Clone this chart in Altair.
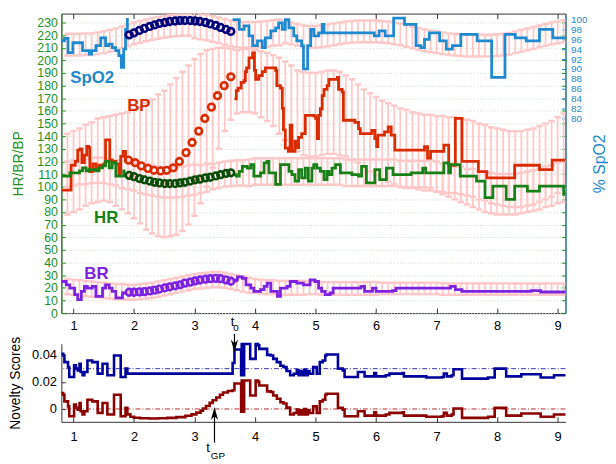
import altair as alt
import pandas as pd

FONT = "Liberation Sans"
W, H_TOP, H_BOT = 510, 303, 79

# ---------------- axes ranges / ticks ----------------
X_DOMAIN = [0.8, 9.13]
LEFT_DOMAIN = [0, 237]
SPO2_DOMAIN = [40.6, 101.2]
NOV_DOMAIN = [-0.0095, 0.0482]
X_TICKS = [1, 2, 3, 4, 5, 6, 7, 8, 9]
LEFT_TICKS = [0, 10, 20, 30, 40, 50, 60, 70, 80, 90, 100, 110, 120, 130, 140, 150,
              160, 170, 180, 190, 200, 210, 220, 230]
SPO2_TICKS = [80, 82, 84, 86, 88, 90, 92, 94, 96, 98, 100]
NOV_TICKS = [0, 0.02, 0.04]

# ---------------- observed vital signs ----------------
SPO2_A_X = [0.80, 0.85, 0.91, 0.95, 0.99, 1.10, 1.15, 1.26, 1.30, 1.37, 1.45, 1.50, 1.53, 1.58,
            1.64, 1.70, 1.75, 1.79, 1.83, 1.86, 1.89]
SPO2_A_Y = [95.7, 96.2, 93.3, 93.3, 95.3, 95.3, 93.7, 93.0, 93.7, 94.7, 96.3, 96.3, 94.7, 95.0,
            94.3, 93.7, 92.7, 90.3, 94.0, 98.0, 100.3]
SPO2_B_X = [3.63, 3.74, 3.82, 3.90, 3.96, 4.04, 4.12, 4.17, 4.26, 4.34, 4.39, 4.45, 4.50, 4.56,
            4.64, 4.69, 4.77, 4.80, 4.87, 4.92, 4.97, 5.05, 5.11, 5.14, 5.97, 6.05, 6.15, 6.29,
            6.47, 6.66, 6.74, 6.80, 6.88, 7.05, 7.16, 7.26, 7.40, 7.67, 7.91, 8.13, 8.30, 8.48,
            8.70, 8.92, 9.13]
SPO2_B_Y = [100.0, 98.0, 98.7, 96.7, 94.7, 95.7, 94.3, 96.3, 97.7, 98.3, 99.3, 98.0, 100.0, 98.3,
            96.7, 95.7, 94.7, 90.0, 94.7, 98.0, 96.7, 97.3, 99.0, 97.3, 96.7, 97.7, 96.7, 100.3,
            99.0, 94.7, 94.3, 96.0, 97.3, 95.7, 94.0, 94.7, 97.0, 95.7, 88.3, 97.0, 96.3, 95.7,
            98.0, 96.3, 96.3]

BP_A_X = [0.80, 0.93, 0.96, 1.03, 1.07, 1.11, 1.14, 1.18, 1.22, 1.25, 1.27, 1.32, 1.37, 1.42,
          1.50, 1.53, 1.56, 1.60, 1.64, 1.70, 1.75, 1.78, 1.82, 1.86]
BP_A_Y = [97.4, 97.4, 117, 120, 129, 130, 119, 125, 132, 131, 112, 118, 113, 117,
          118, 137, 137, 121, 120, 118, 110, 124, 128, 120]
BP_B_X = [3.66, 3.69, 3.72, 3.77, 3.82, 3.84, 3.86, 3.90, 3.96, 3.99, 4.01, 4.06, 4.12, 4.17,
          4.34, 4.36, 4.42, 4.45, 4.47, 4.50, 4.55, 4.58, 4.61, 4.66, 4.69, 4.72, 4.77, 4.83,
          4.97, 5.00, 5.03, 5.05, 5.08, 5.11, 5.14, 5.19, 5.22, 5.36, 5.38, 5.44, 5.46, 5.65,
          5.71, 5.74, 5.93, 5.98, 6.01, 6.03, 6.14, 6.20, 6.25, 6.31, 6.77, 6.80, 6.85, 6.90,
          7.12, 7.20, 7.31, 7.42, 7.69, 7.83, 8.29, 8.70, 8.91, 9.13]
BP_B_Y = [169.5, 176, 178, 182.6, 184, 191, 194, 202, 206, 192, 185, 188, 191, 194,
          192, 180, 178, 162, 145, 130.5, 128, 148.7, 128, 136, 131, 139, 142, 156.5,
          156, 154, 138, 156.5, 161.7, 172, 177, 180, 185, 186.5, 177, 175, 152.6, 151,
          146, 142, 144.5, 138, 131.8, 140.8, 143.4, 147.4, 140.8, 129, 129, 131.8, 122.6, 128,
          133, 117, 154, 120, 112, 107, 117, 113.5, 121, 121]

HR_A_X = [0.80, 0.94, 1.10, 1.15, 1.21, 1.26, 1.37, 1.42, 1.48, 1.53, 1.59, 1.64, 1.70, 1.78,
          1.83, 1.86]
HR_A_Y = [108.3, 111, 112.5, 115, 112.5, 113.5, 112.5, 115, 116.5, 120, 115, 119, 108.3, 108.3,
          112.5, 112.5]
HR_B_X = [3.63, 3.69, 3.74, 3.79, 3.87, 3.93, 3.98, 4.09, 4.15, 4.20, 4.23, 4.34, 4.42, 4.50,
          4.56, 4.61, 4.66, 4.72, 4.77, 4.83, 4.88, 4.94, 4.97, 5.02, 5.08, 5.14, 5.19, 5.22,
          5.27, 5.33, 5.41, 5.60, 5.71, 5.76, 5.84, 5.98, 6.06, 6.17, 6.28, 6.58, 6.77, 6.82,
          7.12, 7.20, 7.23, 7.39, 7.66, 7.80, 7.93, 8.15, 8.29, 8.50, 8.70, 9.10, 9.13]
HR_B_Y = [109.6, 108.3, 112.2, 116.1, 114.8, 117.4, 108.3, 110.9, 118.8, 120.0, 110.9, 101.8,
          117.4, 117.4, 112.2, 109.6, 104.4, 113.5, 107.0, 114.8, 104.4, 114.8, 117.4, 114.8,
          112.2, 105.7, 112.2, 109.6, 114.8, 117.4, 110.9, 109.6, 108.3, 116.1, 103.1, 113.5,
          105.7, 114.8, 109.6, 110.9, 114.8, 110.9, 118.8, 110.9, 117.4, 108.3, 104.4, 91.4,
          100.5, 90.0, 100.5, 96.6, 100.5, 94.0, 94.0]

BR_A_X = [0.80, 0.88, 0.94, 1.02, 1.07, 1.13, 1.18, 1.23, 1.31, 1.37, 1.48, 1.53, 1.59, 1.64,
          1.70, 1.81, 1.86]
BR_A_Y = [25, 22.4, 19.8, 14.6, 10.7, 17.2, 21.1, 19.8, 21.1, 13.3, 19.8, 22.4, 19.8, 17.2,
          12.0, 15.9, 17.2]
BR_B_X = [3.63, 3.69, 3.71, 3.79, 3.85, 3.93, 3.98, 4.09, 4.15, 4.20, 4.26, 4.37, 4.42, 4.53,
          4.58, 4.69, 4.80, 4.91, 4.99, 5.05, 5.10, 5.16, 5.24, 5.29, 5.75, 5.81, 5.94, 6.00,
          6.27, 6.33, 7.23, 7.31, 7.42, 8.56, 8.72, 9.13]
BR_B_Y = [25.5, 26.3, 28.7, 27.4, 22.4, 19.8, 17.2, 18.5, 21.1, 23.7, 17.2, 13.3, 19.8, 21.1,
          25.0, 23.7, 22.4, 26.3, 25.0, 19.8, 17.2, 14.6, 15.9, 19.8, 21.1, 17.2, 19.8, 17.2,
          17.7, 19.8, 21.1, 18.5, 17.2, 17.7, 16.7, 16.7]

# ---------------- GP predictions in the gap (circles) ----------------
CIRC_X = [1.92, 2.00, 2.09, 2.17, 2.26, 2.34, 2.42, 2.51, 2.59, 2.68, 2.76, 2.84, 2.93, 3.01,
          3.09, 3.18, 3.26, 3.35, 3.43, 3.52, 3.60]
SPO2_CIRC = [96.9, 97.3, 97.8, 98.2, 98.6, 98.9, 99.2, 99.4, 99.6, 99.7, 99.8, 99.8, 99.8, 99.7,
             99.6, 99.4, 99.1, 98.8, 98.4, 98.0, 97.6]
HR_CIRC = [109, 108, 106.5, 105.5, 104.5, 103.5, 103, 102.5, 102.5, 102.5, 103, 103.5, 104.5,
           105.5, 106, 107, 107.5, 108.5, 109.5, 110.5, 111]
BR_CIRC = [16.5, 16.5, 16.8, 17, 17.5, 18.2, 19, 20, 20.8, 21.6, 22.4, 23.7, 24.5, 25.5, 26.2,
           26.8, 27.2, 27.5, 27.2, 26.3, 25.2]
BP_CIRC_X = [1.91, 2.02, 2.12, 2.23, 2.33, 2.44, 2.54, 2.65, 2.75, 2.86, 2.96, 3.07, 3.17, 3.28,
             3.38, 3.49, 3.60]
BP_CIRC = [121, 119, 116.5, 114.5, 113, 112.5, 113, 115, 120, 127, 135, 144, 154, 163, 172, 180,
           187]

# ---------------- GP error bars (centre, half width) ----------------
BAND_X = [0.9, 1.0, 1.1, 1.2, 1.3, 1.4, 1.5, 1.6, 1.7, 1.8,
          1.9, 2.0, 2.1, 2.2, 2.3, 2.4, 2.5, 2.6, 2.7, 2.8,
          2.9, 3.0, 3.1, 3.2, 3.3, 3.4, 3.5, 3.6, 3.7, 3.8,
          3.9, 4.0, 4.1, 4.2, 4.3, 4.4, 4.5, 4.6, 4.7, 4.8,
          4.9, 5.0, 5.1, 5.2, 5.3, 5.4, 5.5, 5.6, 5.7, 5.8,
          5.9, 6.0, 6.1, 6.2, 6.3, 6.4, 6.5, 6.6, 6.7, 6.8,
          6.9, 7.0, 7.1, 7.2, 7.3, 7.4, 7.5, 7.6, 7.7, 7.8,
          7.9, 8.0, 8.1, 8.2, 8.3, 8.4, 8.5, 8.6, 8.7, 8.8,
          8.9, 9.0, 9.1]
SPO2_BAND_C = [94.9, 94.9, 94.9, 95.0, 95.0, 95.2, 95.4, 95.7, 96.0, 96.4,
               96.8, 97.2, 97.5, 97.8, 98.1, 98.3, 98.5, 98.7, 98.8, 98.9,
               98.9, 98.8, 98.6, 98.4, 98.1, 97.8, 97.5, 97.2, 97.0, 96.9,
               96.9, 96.9, 97.0, 97.1, 97.3, 97.4, 97.4, 97.2, 96.9, 96.6,
               96.5, 96.5, 96.6, 96.8, 97.0, 97.2, 97.4, 97.5, 97.6, 97.6,
               97.6, 97.6, 97.5, 97.4, 97.2, 97.0, 96.7, 96.4, 96.1, 95.8,
               95.6, 95.4, 95.2, 95.0, 94.9, 94.8, 94.7, 94.7, 94.7, 94.7,
               94.7, 94.8, 94.9, 95.1, 95.4, 95.7, 96.0, 96.3, 96.6, 96.9,
               97.2, 97.4, 97.6]
SPO2_BAND_HW = [2.2, 2.2, 2.2, 2.2, 2.2, 2.2, 2.2, 2.2, 2.2, 2.2,
                2.2, 2.2, 2.2, 2.2, 2.2, 2.2, 2.2, 2.2, 2.2, 2.2,
                2.2, 2.6, 2.6, 2.6, 2.6, 2.6, 2.6, 2.6, 2.6, 2.6,
                2.6, 2.6, 2.6, 2.6, 2.6, 2.6, 2.2, 2.2, 2.2, 2.2,
                2.2, 2.2, 2.2, 2.2, 2.2, 2.2, 2.2, 2.2, 2.2, 2.2,
                2.2, 2.2, 2.2, 2.2, 2.2, 2.2, 2.2, 2.2, 2.2, 2.2,
                2.2, 2.2, 2.2, 2.2, 2.2, 2.2, 2.2, 2.2, 2.2, 2.2,
                2.2, 2.2, 2.2, 2.2, 2.2, 2.2, 2.2, 2.2, 2.2, 2.2,
                2.2, 2.2, 2.2]
BP_BAND_C = [110, 112, 114, 117, 119, 121, 122, 122, 121, 120,
             119, 118, 117, 116, 116, 117, 118, 121, 124, 128,
             133, 139, 146, 154, 162, 170, 177, 181, 183, 184,
             184, 183, 181, 179, 176, 172, 168, 164, 160, 158,
             157, 157, 158, 159, 159, 158, 156, 153, 150, 146,
             143, 140, 137, 135, 133, 131, 130, 129, 128, 127,
             127, 126, 126, 125, 125, 124, 123, 122, 120, 119,
             117, 116, 115, 114, 114, 114, 115, 116, 118, 120,
             122, 125, 128]
BP_BAND_HW = [32, 32, 32, 32, 32, 33, 33, 34, 36, 38,
              40, 43, 46, 50, 53, 56, 58, 60, 62, 63,
              63, 62, 59, 54, 47, 40, 33, 28, 25, 25,
              25, 25, 26, 27, 28, 30, 31, 32, 32, 33,
              33, 33, 33, 33, 33, 33, 32, 32, 31, 31,
              31, 31, 31, 31, 31, 31, 31, 30, 30, 30,
              30, 30, 30, 30, 30, 30, 30, 30, 30, 30,
              30, 30, 30, 30, 30, 30, 30, 30, 30, 30,
              30, 30, 30]
HR_BAND_C = [110, 111, 112, 112, 113, 113, 113, 112, 111, 110,
             109, 108, 107, 106, 105, 104, 103.5, 103.5, 103.5, 104,
             105, 105.5, 106, 107, 108, 109, 110, 110.5, 111, 111,
             111, 112, 112, 112, 112, 112, 112, 112, 112, 112,
             112, 112, 112, 112, 112, 112, 111, 111, 111, 111,
             111, 111, 111, 111, 111, 110, 110, 110, 110, 110,
             110, 108, 106, 105, 103, 102, 100, 99, 97, 96,
             95, 94, 94, 94, 94, 95, 96, 97, 98, 100,
             101, 103, 104]
HR_BAND_HW = [10, 10, 10, 10, 10, 10, 10, 10, 10, 11,
              11, 11, 12, 12, 12, 12, 12, 12, 12, 12,
              12, 12, 11, 11, 10, 10, 10, 10, 10, 10,
              10.5, 10.5, 10.5, 10.5, 10.5, 10.5, 10.5, 10.5, 10.5, 10.5,
              10.5, 10.5, 10.5, 10.5, 10.5, 10.5, 10.5, 10.5, 10.5, 10.5,
              10.5, 10.5, 10.5, 10.5, 10.5, 10.5, 10.5, 10.5, 10.5, 10.5,
              11, 12, 12, 13, 13, 14, 14, 15, 15, 16,
              16, 16, 16, 16, 16, 16, 16, 16, 16, 16,
              16, 16, 16]
BR_BAND_C = [21, 20.5, 20, 19.5, 19, 18.5, 18, 17.5, 17, 17,
             16.5, 16.5, 17, 17.5, 18, 19, 20, 21, 22, 23,
             24, 25, 25.5, 26, 26.5, 26.5, 26, 25, 24, 23,
             22, 21.5, 21, 20.5, 20.5, 20, 20, 20, 20, 20,
             20, 20, 19.5, 19.5, 19.5, 19.5, 19.5, 19.5, 19.5, 19.5,
             19.5, 19.5, 19.5, 19.5, 19.5, 19.5, 19.5, 19.5, 19.5, 19.5,
             19.5, 19.5, 19, 19, 19, 19, 19, 19, 19, 19,
             19, 19, 19, 19, 19, 19, 19, 19, 19, 19,
             19, 19, 19]
BR_BAND_HW = [6, 6, 6, 6, 6, 6, 6, 6, 6, 6,
              6, 6, 6, 6, 6, 6, 6, 6, 6, 6,
              6, 6, 6, 6, 6, 6, 6, 6, 6, 6,
              6, 5.5, 5.5, 5.5, 5.5, 5.5, 5.5, 5.5, 5.5, 5.5,
              5, 5, 5, 5, 5, 5, 5, 5, 5, 5,
              5, 5, 4.5, 4.5, 4.5, 4.5, 4.5, 4.5, 4.5, 4.5,
              4.5, 4.5, 4.5, 4.5, 4.5, 4.5, 4.5, 4.5, 4.5, 4.5,
              4.5, 4.5, 4.5, 4.5, 4.5, 4.5, 4.5, 4.5, 4.5, 4.5,
              4.5, 4.5, 4.5]

# ---------------- in-plot labels ----------------
LABEL_TEXT = ["SpO2", "BP", "HR", "BR"]
LABEL_X = [1.31, 2.08, 1.54, 1.38]
LABEL_Y = [186.2, 163.5, 75.1, 30.9]

# ---------------- novelty scores ----------------
NOV_BLUE_X = [0.80, 0.83, 0.85, 0.91, 0.93, 0.99, 1.01, 1.04, 1.07, 1.10,
              1.12, 1.15, 1.18, 1.23, 1.31, 1.37, 1.40, 1.45, 1.48, 1.53,
              1.56, 1.64, 1.67, 1.75, 1.78, 1.83, 1.86, 1.89, 3.60, 3.63,
              3.66, 3.76, 3.77, 3.78, 3.79, 3.80, 3.81, 3.82, 3.90, 3.92,
              3.99, 4.01, 4.05, 4.07, 4.17, 4.20, 4.26, 4.30, 4.36, 4.42,
              4.47, 4.52, 4.58, 4.64, 4.69, 4.72, 4.75, 4.78, 4.81, 4.84,
              4.87, 4.90, 4.96, 5.02, 5.07, 5.12, 5.16, 5.18, 5.35, 5.37,
              5.45, 5.48, 5.67, 5.70, 5.78, 5.81, 5.94, 5.97, 6.00, 6.16,
              6.22, 6.44, 6.46, 6.83, 7.09, 7.12, 7.17, 7.25, 7.28, 7.39,
              7.42, 7.80, 7.85, 7.93, 7.96, 8.12, 8.15, 8.40, 8.70, 8.72,
              8.89, 8.94, 9.13]
NOV_BLUE_Y = [0.0407, 0.0395, 0.0346, 0.0309, 0.0236, 0.0236, 0.0322, 0.0298, 0.0285, 0.0334,
              0.0273, 0.0249, 0.0273, 0.0358, 0.0346, 0.0346, 0.0261, 0.0261, 0.0334, 0.0334,
              0.0249, 0.0249, 0.0395, 0.0395, 0.0236, 0.0236, 0.0298, 0.0261, 0.0261, 0.0340,
              0.0440, 0.0440, 0.0250, 0.0480, 0.0250, 0.0480, 0.0250, 0.0480, 0.0480, 0.0370,
              0.0370, 0.0480, 0.0470, 0.0444, 0.0444, 0.0400, 0.0395, 0.0370, 0.0346, 0.0320,
              0.0310, 0.0280, 0.0249, 0.0260, 0.0285, 0.0249, 0.0280, 0.0249, 0.0290, 0.0249,
              0.0280, 0.0260, 0.0309, 0.0261, 0.0346, 0.0358, 0.0395, 0.0402, 0.0402, 0.0298,
              0.0285, 0.0236, 0.0236, 0.0273, 0.0273, 0.0241, 0.0241, 0.0266, 0.0241, 0.0249,
              0.0261, 0.0266, 0.0241, 0.0232, 0.0236, 0.0261, 0.0241, 0.0249, 0.0293, 0.0293,
              0.0224, 0.0224, 0.0232, 0.0232, 0.0298, 0.0298, 0.0241, 0.0256, 0.0256, 0.0232,
              0.0232, 0.0249, 0.0249]
NOV_RED_X = [0.80, 0.83, 0.85, 0.91, 0.93, 0.99, 1.01, 1.04, 1.07, 1.10,
             1.12, 1.15, 1.18, 1.23, 1.31, 1.37, 1.40, 1.45, 1.48, 1.53,
             1.56, 1.64, 1.67, 1.75, 1.78, 1.83, 1.86,
             1.89, 1.94, 2.00, 2.10, 2.25, 2.40, 2.55, 2.70, 2.85, 2.95,
             3.03, 3.10, 3.14, 3.19, 3.25, 3.30, 3.36, 3.42, 3.47, 3.55, 3.63,
             3.66, 3.76, 3.77, 3.78, 3.79, 3.80, 3.81, 3.82, 3.90, 3.92,
             3.99, 4.01, 4.05, 4.07, 4.17, 4.20, 4.26, 4.30, 4.36, 4.42,
             4.47, 4.52, 4.58, 4.64, 4.69, 4.72, 4.75, 4.78, 4.81, 4.84,
             4.87, 4.90, 4.96, 5.02, 5.07, 5.12, 5.16, 5.18, 5.35, 5.37,
             5.45, 5.48, 5.67, 5.70, 5.78, 5.81, 5.94, 5.97, 6.00, 6.16,
             6.22, 6.44, 6.46, 6.83, 7.09, 7.12, 7.17, 7.25, 7.28, 7.39,
             7.42, 7.80, 7.85, 7.93, 7.96, 8.12, 8.15, 8.40, 8.70, 8.72,
             8.89, 8.94, 9.13]
NOV_RED_Y = [0.0117, 0.0105, 0.0056, 0.0019, -0.0054, -0.0054, 0.0032, 0.0008, -0.0005, 0.0044,
             -0.0017, -0.0041, -0.0017, 0.0068, 0.0056, 0.0056, -0.0029, -0.0029, 0.0044, 0.0044,
             -0.0041, -0.0041, 0.0105, 0.0105, -0.0054, -0.0054, 0.0008,
             -0.0040, -0.0058, -0.0065, -0.0069, -0.0070, -0.0069, -0.0066, -0.0060, -0.0050,
             -0.0040, -0.0027, -0.0012, 0.0003, 0.0022, 0.0045, 0.0065, 0.0085, 0.0105, 0.0122,
             0.0133, 0.0139,
             0.0188, 0.0188, -0.0020, 0.0210, -0.0020, 0.0210, -0.0020, 0.0210, 0.0210, 0.0100,
             0.0100, 0.0210, 0.0200, 0.0174, 0.0174, 0.0130, 0.0125, 0.0100, 0.0076, 0.0050,
             0.0040, 0.0010, -0.0041, -0.0030, -0.0005, -0.0041, -0.0010, -0.0041, 0.0000, -0.0041,
             -0.0010, -0.0030, 0.0019, -0.0029, 0.0056, 0.0068, 0.0105, 0.0112, 0.0112, 0.0008,
             -0.0005, -0.0054, -0.0054, -0.0017, -0.0017, -0.0049, -0.0049, -0.0024, -0.0049, -0.0041,
             -0.0029, -0.0024, -0.0049, -0.0058, -0.0054, -0.0029, -0.0049, -0.0041, 0.0003, 0.0003,
             -0.0066, -0.0066, -0.0058, -0.0058, 0.0008, 0.0008, -0.0049, -0.0034, -0.0034, -0.0058,
             -0.0058, -0.0041, -0.0041]
NOV_THRESH = [0.0298, 0.0]
T0 = 3.66
TGP = 3.33
ARROW_T0 = [0.0555, 0.0462]     # tail, head start (novelty units)
ARROW_T0_HEAD = 0.0464
ARROW_TGP = [-0.0248, -0.0035]
ARROW_TGP_HEAD = -0.0033

# ---------------- styling ----------------
PINK = "#ffc8c8"
C_SPO2 = "#1f8ad0"
C_SPO2_CIRC = "#00007a"
C_BP = "#d92c00"
C_HR = "#178017"
C_HR_CIRC = "#0a4d0a"
C_BR = "#7c22e0"
C_AX_GREEN = "#239023"
C_AX_BLUE = "#1f88cc"
C_NOV_BLUE = "#00009c"
C_NOV_RED = "#8b0000"
C_FRAME = "#333333"
LABEL_COLORS = [C_AX_BLUE, C_BP, C_HR, C_BR]

xs = alt.Scale(domain=X_DOMAIN, nice=False, zero=False)
ls = alt.Scale(domain=LEFT_DOMAIN, nice=False, zero=False)
rs = alt.Scale(domain=SPO2_DOMAIN, nice=False, zero=False)
ns = alt.Scale(domain=NOV_DOMAIN, nice=False, zero=False)


def line_df(*parts):
    frames = [pd.DataFrame({"x": xv, "y": yv, "seg": i}) for i, (xv, yv) in enumerate(parts)]
    return pd.concat(frames, ignore_index=True)


def band_df(centers, hws):
    return pd.DataFrame({"x": BAND_X,
                         "lo": [c - h for c, h in zip(centers, hws)],
                         "hi": [c + h for c, h in zip(centers, hws)]})


def caps_df(df):
    return pd.concat([df[["x", "lo"]].rename(columns={"lo": "v"}),
                      df[["x", "hi"]].rename(columns={"hi": "v"})], ignore_index=True)


df_band_left = pd.concat([band_df(BP_BAND_C, BP_BAND_HW), band_df(HR_BAND_C, HR_BAND_HW),
                          band_df(BR_BAND_C, BR_BAND_HW)], ignore_index=True)
df_band_spo2 = band_df(SPO2_BAND_C, SPO2_BAND_HW)

# ---------------- axes ----------------
ax_x_lab = alt.Axis(orient="bottom", values=X_TICKS, ticks=False, domain=False, grid=False,
                    labelPadding=7, labelFontSize=13, labelColor="black", labelFlush=False,
                    title=None, format="d")
ax_x_top_t = alt.Axis(orient="top", values=X_TICKS, labels=False, domain=False, grid=False,
                      ticks=True, tickSize=5, tickColor=C_FRAME, offset=-5, title=None)
ax_x_bot_t = alt.Axis(orient="bottom", values=X_TICKS, labels=False, domain=False, grid=False,
                      ticks=True, tickSize=5, tickColor=C_FRAME, offset=-5, title=None)
ax_left = alt.Axis(orient="left", values=LEFT_TICKS, ticks=False, domain=True,
                   domainColor=C_AX_GREEN, labelColor=C_AX_GREEN, labelFontSize=12.5,
                   labelOverlap=False, labelPadding=4, grid=True, gridColor="#c4dcc4",
                   gridDash=[1, 2], title="HR/BR/BP", titleColor=C_AX_GREEN, titleFontSize=14,
                   titleFontWeight="normal", titleX=-43, titleY=H_TOP / 2,
                   titleBaseline="middle", titleAngle=270)
ax_left_t = alt.Axis(orient="left", values=LEFT_TICKS, labels=False, domain=False, grid=False,
                     ticks=True, tickSize=4, tickColor=C_AX_GREEN, offset=-4, title=None)
ax_right_green_t = alt.Axis(orient="right", values=LEFT_TICKS, labels=False, domain=False,
                            grid=False, ticks=True, tickSize=4, tickColor=C_AX_GREEN,
                            offset=-4, title=None)
ax_right = alt.Axis(orient="right", values=SPO2_TICKS, ticks=False, domain=True,
                    domainColor=C_AX_BLUE, labelColor=C_AX_BLUE, labelFontSize=10,
                    labelPadding=5, labelOverlap=False, grid=False, title="% SpO2",
                    titleColor=C_AX_BLUE, titleFontSize=16, titleFontWeight="normal",
                    titleX=34, titleY=H_TOP / 2, titleBaseline="middle", titleAngle=270)
ax_right_t = alt.Axis(orient="right", values=SPO2_TICKS, labels=False, domain=False, grid=False,
                      ticks=True, tickSize=4, tickColor=C_AX_BLUE, offset=-4, title=None)


def step_line(df, color, yscale, ax_x=None, ax_y=None, width=2.8):
    return alt.Chart(df).mark_line(interpolate="step-after", color=color, strokeWidth=width,
                                   clip=True).encode(
        x=alt.X("x:Q", scale=xs, axis=ax_x),
        y=alt.Y("y:Q", scale=yscale, axis=ax_y),
        detail="seg:N")


def circles(xv, yv, color, yscale, ax_y=None):
    return alt.Chart(pd.DataFrame({"x": xv, "y": yv})).mark_point(
        shape="circle", filled=False, color=color, size=46, strokeWidth=2.6, opacity=1).encode(
        x=alt.X("x:Q", scale=xs, axis=None),
        y=alt.Y("y:Q", scale=yscale, axis=ax_y))


def band_layers(df, yscale):
    rules = alt.Chart(df).mark_rule(color=PINK, strokeWidth=1.8, clip=True).encode(
        x=alt.X("x:Q", scale=xs, axis=None),
        y=alt.Y("lo:Q", scale=yscale, axis=None), y2="hi:Q")
    caps = alt.Chart(caps_df(df)).mark_tick(orient="horizontal", color=PINK, size=6.5,
                                            thickness=2.5, clip=True, opacity=1).encode(
        x=alt.X("x:Q", scale=xs, axis=None),
        y=alt.Y("v:Q", scale=yscale, axis=None))
    return [rules, caps]


labels = alt.Chart(pd.DataFrame({"x": LABEL_X, "y": LABEL_Y, "t": LABEL_TEXT,
                                 "c": LABEL_COLORS})).mark_text(
    font=FONT, fontSize=17, fontWeight="bold", align="center", baseline="middle").encode(
    x=alt.X("x:Q", scale=xs, axis=None), y=alt.Y("y:Q", scale=ls, axis=None),
    text="t:N", color=alt.Color("c:N", scale=None))

df_t0 = pd.DataFrame({"x": [T0]})
t0_t = alt.Chart(df_t0).mark_text(text="t", font=FONT, fontSize=13, baseline="alphabetic",
                                  dx=-2, color="black").encode(
    x=alt.X("x:Q", scale=xs, axis=None), y=alt.value(H_TOP + 13))
t0_0 = alt.Chart(df_t0).mark_text(text="0", font=FONT, fontSize=10, baseline="alphabetic",
                                  dx=1.5, color="black").encode(
    x=alt.X("x:Q", scale=xs, axis=None), y=alt.value(H_TOP + 18.5))

top_layers = (band_layers(df_band_left, ls) + band_layers(df_band_spo2, rs) + [
    step_line(line_df((SPO2_A_X, SPO2_A_Y), (SPO2_B_X, SPO2_B_Y)), C_SPO2, rs, ax_y=ax_right),
    step_line(line_df((BP_A_X, BP_A_Y), (BP_B_X, BP_B_Y)), C_BP, ls, ax_x=ax_x_lab, ax_y=ax_left),
    step_line(line_df((HR_A_X, HR_A_Y), (HR_B_X, HR_B_Y)), C_HR, ls, ax_x=ax_x_top_t,
              ax_y=ax_left_t),
    step_line(line_df((BR_A_X, BR_A_Y), (BR_B_X, BR_B_Y)), C_BR, ls, ax_x=ax_x_bot_t,
              ax_y=ax_right_green_t),
    circles(CIRC_X, SPO2_CIRC, C_SPO2_CIRC, rs, ax_y=ax_right_t),
    circles(BP_CIRC_X, BP_CIRC, C_BP, ls),
    circles(CIRC_X, HR_CIRC, C_HR_CIRC, ls),
    circles(CIRC_X, BR_CIRC, C_BR, ls),
    labels, t0_t, t0_0,
])

top = alt.layer(*top_layers).resolve_scale(y="independent").resolve_axis(
    x="independent", y="independent").properties(
    width=W, height=H_TOP, view=alt.ViewBackground(stroke=C_FRAME, strokeWidth=1))

# ---------------- bottom panel ----------------
ax_n_left = alt.Axis(orient="left", values=NOV_TICKS, format=".2~f", ticks=False, domain=True,
                     domainColor=C_FRAME, labelColor="black", labelFontSize=13, labelPadding=5,
                     grid=False, title="Novelty Scores", titleColor="black", titleFontSize=14,
                     titleFontWeight="normal", titleX=-46.5, titleY=H_BOT / 2,
                     titleBaseline="middle", titleAngle=270)
ax_n_left_t = alt.Axis(orient="left", values=NOV_TICKS, labels=False, domain=False, grid=False,
                       ticks=True, tickSize=4, tickColor=C_FRAME, offset=-4, title=None)
ax_n_x = alt.Axis(orient="bottom", values=X_TICKS, ticks=False, domain=True, domainColor=C_FRAME,
                  labelPadding=9, labelFontSize=13, labelColor="black", labelFlush=False,
                  grid=False, title=None, format="d")
ax_n_x_t = alt.Axis(orient="bottom", values=X_TICKS, labels=False, domain=False, grid=False,
                    ticks=True, tickSize=5, tickColor=C_FRAME, offset=-5, title=None)

thr = alt.Chart(pd.DataFrame({"v": NOV_THRESH, "c": ["#3a3ab0", "#b03030"]})).mark_rule(
    strokeWidth=1, strokeDash=[5, 2, 1, 2]).encode(
    y=alt.Y("v:Q", scale=ns, axis=None), color=alt.Color("c:N", scale=None))

nov_blue = alt.Chart(pd.DataFrame({"x": NOV_BLUE_X, "y": NOV_BLUE_Y})).mark_line(
    interpolate="step-after", color=C_NOV_BLUE, strokeWidth=2.6).encode(
    x=alt.X("x:Q", scale=xs, axis=ax_n_x), y=alt.Y("y:Q", scale=ns, axis=ax_n_left))
nov_red = alt.Chart(pd.DataFrame({"x": NOV_RED_X, "y": NOV_RED_Y})).mark_line(
    interpolate="step-after", color=C_NOV_RED, strokeWidth=2.6).encode(
    x=alt.X("x:Q", scale=xs, axis=ax_n_x_t), y=alt.Y("y:Q", scale=ns, axis=ax_n_left_t))

arrow_df = pd.DataFrame({"x": [T0, TGP], "y1": [ARROW_T0[0], ARROW_TGP[0]],
                         "y2": [ARROW_T0[1], ARROW_TGP[1]]})
arrow_lines = alt.Chart(arrow_df).mark_rule(color="black", strokeWidth=1.2, clip=False).encode(
    x=alt.X("x:Q", scale=xs, axis=None), y=alt.Y("y1:Q", scale=ns, axis=None), y2="y2:Q")
head_down = alt.Chart(pd.DataFrame({"x": [T0], "y": [ARROW_T0_HEAD]})).mark_point(
    shape="M-0.55,-1L0,1L0.55,-1L0,-0.45Z", filled=True, color="black", size=169, opacity=1,
    clip=False).encode(x=alt.X("x:Q", scale=xs, axis=None), y=alt.Y("y:Q", scale=ns, axis=None))
head_up = alt.Chart(pd.DataFrame({"x": [TGP], "y": [ARROW_TGP_HEAD]})).mark_point(
    shape="M-0.55,1L0,-1L0.55,1L0,0.45Z", filled=True, color="black", size=169, opacity=1,
    clip=False).encode(x=alt.X("x:Q", scale=xs, axis=None), y=alt.Y("y:Q", scale=ns, axis=None))

df_tgp = pd.DataFrame({"x": [TGP]})
tgp_t = alt.Chart(df_tgp).mark_text(text="t", font=FONT, fontSize=13, baseline="alphabetic",
                                    dx=-6.5, color="black").encode(
    x=alt.X("x:Q", scale=xs, axis=None), y=alt.value(110))
tgp_gp = alt.Chart(df_tgp).mark_text(text="GP", font=FONT, fontSize=10, baseline="alphabetic",
                                     dx=3.5, color="black").encode(
    x=alt.X("x:Q", scale=xs, axis=None), y=alt.value(116.5))

bottom = alt.layer(thr, nov_blue, nov_red, arrow_lines, head_down, head_up, tgp_t, tgp_gp
                   ).resolve_axis(x="independent", y="independent").properties(
    width=W, height=H_BOT)

chart = alt.vconcat(top, bottom, spacing=31, bounds="flush").properties(
    padding={"left": 0, "top": 0, "right": 0, "bottom": 0}
).configure_view(stroke=None).configure_axis(labelFont=FONT, titleFont=FONT)

chart.save("out.html", embed_options={"renderer": "svg", "actions": False})
